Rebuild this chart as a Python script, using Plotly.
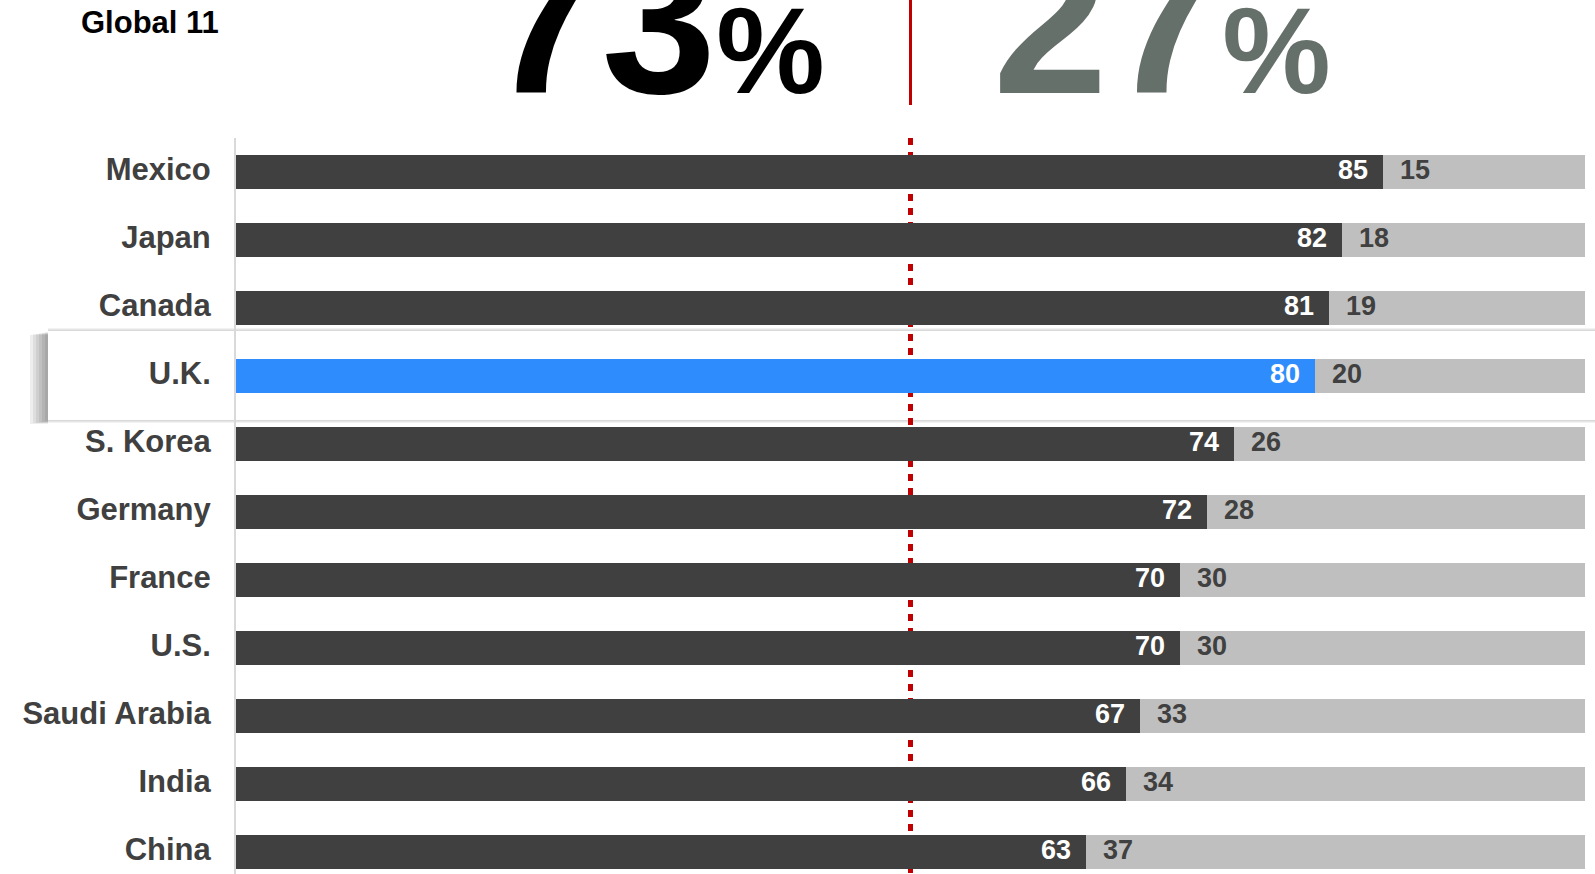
import plotly.graph_objects as go

# Survey shares by country (percent)
countries = ["Mexico", "Japan", "Canada", "U.K.", "S. Korea", "Germany",
             "France", "U.S.", "Saudi Arabia", "India", "China"]
yes_share = [85, 82, 81, 80, 74, 72, 70, 70, 67, 66, 63]
no_share = [15, 18, 19, 20, 26, 28, 30, 30, 33, 34, 37]
highlight = "U.K."

global_label = "Global 11"
global_yes = 73
global_no = 27
midpoint = 50

# Canvas and plot-area geometry (pixels)
W, H = 1595, 874
L, R, T, B = 236, 10, 138, 0
PW, PH = W - L - R, H - T - B
ROW_PX = 68


def px_x(x):
    return (x - L) / PW


def px_y(y):
    return 1 - (y - T) / PH


DARK = "#404040"
LIGHT = "#bfbfbf"
BLUE = "#2f8cfd"
RED = "#c00000"
SLATE = "#66706b"
FONT = "Liberation Sans, Arial, Helvetica, sans-serif"

rows = list(range(len(countries)))
bar_colors = [BLUE if c == highlight else DARK for c in countries]

fig = go.Figure()
fig.add_bar(y=rows, x=yes_share, orientation="h", width=0.5,
            marker=dict(color=bar_colors, line=dict(width=0)),
            hoverinfo="skip", showlegend=False)
fig.add_bar(y=rows, x=no_share, orientation="h", width=0.5,
            marker=dict(color=LIGHT, line=dict(width=0)),
            hoverinfo="skip", showlegend=False)

annotations = []
for i, (y_val, n_val) in enumerate(zip(yes_share, no_share)):
    annotations.append(dict(
        x=y_val, y=i, xref="x", yref="y", text=str(y_val), showarrow=False,
        xanchor="right", yanchor="middle", xshift=-13, yshift=2,
        font=dict(family=FONT, size=27, color="white", weight="bold")))
    annotations.append(dict(
        x=y_val, y=i, xref="x", yref="y", text=str(n_val), showarrow=False,
        xanchor="left", yanchor="middle", xshift=15, yshift=2,
        font=dict(family=FONT, size=27, color=DARK, weight="bold")))

# Headline label and big totals
annotations.append(dict(
    x=px_x(79), y=px_y(22), xref="paper", yref="paper", text=global_label,
    showarrow=False, xanchor="left", yanchor="middle",
    font=dict(family=FONT, size=31, color="black", weight="bold")))
annotations.append(dict(
    x=px_x(826), y=px_y(138), xref="paper", yref="paper",
    text=f"{global_yes}<span style='font-size:122px'>%</span>",
    showarrow=False, xanchor="right", yanchor="bottom", borderpad=0,
    font=dict(family=FONT, size=206, color="black", weight="bold")))
annotations.append(dict(
    x=px_x(992), y=px_y(138), xref="paper", yref="paper",
    text=f"{global_no}<span style='font-size:122px'>%</span>",
    showarrow=False, xanchor="left", yanchor="bottom", borderpad=0,
    font=dict(family=FONT, size=206, color=SLATE, weight="bold")))

shapes = []
# Highlight card behind the selected country, with a soft drop shadow
card_top, card_bot, card_left = 331, 420, 48
for k in range(1, 7):
    shapes.append(dict(type="rect", xref="paper", yref="paper", layer="below",
                       x0=px_x(card_left - 3 * k), x1=px_x(card_left),
                       y0=px_y(card_top + 1 + k // 2), y1=px_y(card_bot + 1 + k // 2),
                       fillcolor="rgba(0,0,0,0.065)", line=dict(width=0)))
for k in range(1, 4):
    shapes.append(dict(type="rect", xref="paper", yref="paper", layer="below",
                       x0=px_x(card_left), x1=px_x(W + 10),
                       y0=px_y(card_top - k), y1=px_y(card_bot + k),
                       fillcolor="rgba(0,0,0,0.05)", line=dict(width=0)))
shapes.append(dict(type="rect", xref="paper", yref="paper", layer="below",
                   x0=px_x(card_left), x1=px_x(W + 10),
                   y0=px_y(card_top), y1=px_y(card_bot),
                   fillcolor="white", line=dict(width=0)))

# Midpoint markers: dotted line through the bars, solid line in the header
shapes.append(dict(type="line", xref="x", yref="paper", layer="below",
                   x0=midpoint, x1=midpoint, y0=1, y1=0,
                   line=dict(color=RED, width=5, dash="7px,7px")))
shapes.append(dict(type="line", xref="paper", yref="paper", layer="above",
                   x0=midpoint / 100, x1=midpoint / 100,
                   y0=px_y(0), y1=px_y(105),
                   line=dict(color=RED, width=3)))

fig.update_layout(
    width=W, height=H,
    margin=dict(l=L, r=R, t=T, b=B, pad=0),
    paper_bgcolor="white", plot_bgcolor="rgba(0,0,0,0)",
    barmode="stack", bargap=0.5,
    annotations=annotations, shapes=shapes,
    hovermode=False,
    xaxis=dict(range=[0, 100], visible=False, fixedrange=True),
    yaxis=dict(
        range=[-0.5 + PH / ROW_PX, -0.5],
        tickmode="array", tickvals=rows, ticktext=countries,
        ticks="", ticklabelstandoff=17, ticklabelshift=3,
        tickfont=dict(family=FONT, size=31, color=DARK, weight="bold"),
        showline=True, linecolor="#d9d9d9", linewidth=2,
        showgrid=False, zeroline=False, fixedrange=True),
)

fig.write_html("out.html", config={"displayModeBar": False})
